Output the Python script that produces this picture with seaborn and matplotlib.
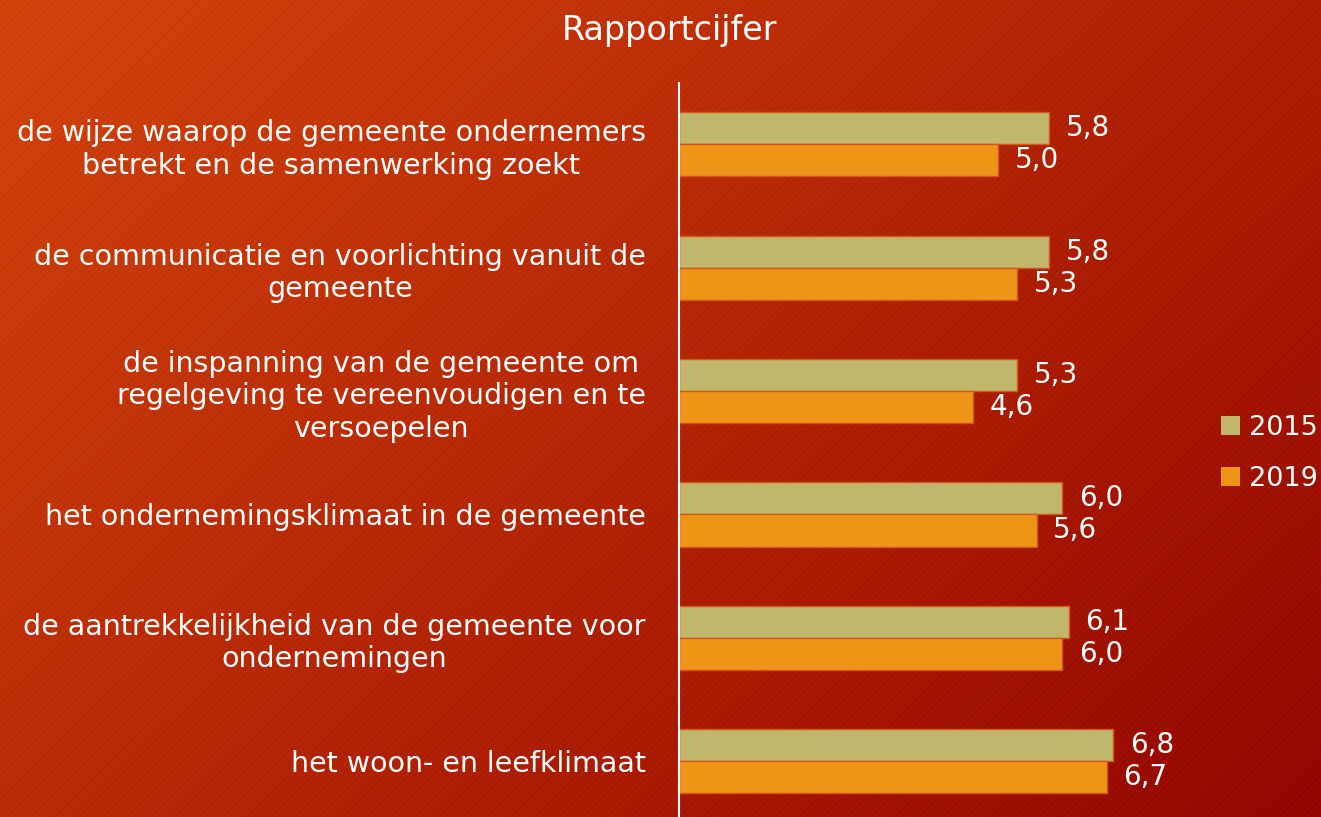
import numpy as np
import pandas as pd
import seaborn as sns
import matplotlib.pyplot as plt
from matplotlib.patches import Patch

# data
categories = [
    'de wijze waarop de gemeente ondernemers\nbetrekt en de samenwerking zoekt',
    'de communicatie en voorlichting vanuit de\ngemeente',
    'de inspanning van de gemeente om\nregelgeving te vereenvoudigen en te\nversoepelen',
    'het ondernemingsklimaat in de gemeente',
    'de aantrekkelijkheid van de gemeente voor\nondernemingen',
    'het woon- en leefklimaat',
]
scores_2015 = [5.8, 5.8, 5.3, 6.0, 6.1, 6.8]
scores_2019 = [5.0, 5.3, 4.6, 5.6, 6.0, 6.7]
years = ['2015', '2019']
colors = ['#C1B76C', '#F09418']

df = pd.DataFrame({
    'categorie': categories * 2,
    'cijfer': scores_2015 + scores_2019,
    'jaar': [years[0]] * len(categories) + [years[1]] * len(categories),
})

sns.set_style('white')
plt.rcParams['font.family'] = ['DejaVu Sans']

fig = plt.figure(figsize=(13.21, 8.17), dpi=100)

# background gradient with faint diagonal stripes
bg = fig.add_axes([0, 0, 1, 1], zorder=0)
W, H = 1321, 817
px, py = np.meshgrid(np.arange(W), np.arange(H))
t = np.clip(px / W * 0.6 + py / H * 0.4, 0, 1)
c0 = np.array([213, 70, 15]) / 255
c1 = np.array([150, 8, 0]) / 255
img = c0[None, None, :] * (1 - t[..., None]) + c1[None, None, :] * t[..., None]
stripes = ((px + py) % 6 < 3) * 0.018
img = np.clip(img - stripes[..., None], 0, 1)
bg.imshow(img, aspect='auto', extent=[0, 1, 0, 1], origin='upper',
          interpolation='nearest')
bg.axis('off')

ax = fig.add_axes([0.514, -0.0073, 0.394, 0.9063], zorder=1)
ax.patch.set_alpha(0)
sns.barplot(data=df, y='categorie', x='cijfer', hue='jaar', orient='h',
            palette=colors, saturation=1, width=0.52, edgecolor='#D0581A',
            linewidth=1, legend=False, ax=ax)

for cont in ax.containers:
    labels = [f'{b.get_width():.1f}'.replace('.', ',') for b in cont]
    ax.bar_label(cont, labels=labels, padding=12, color='white', fontsize=20)

ax.set_xlim(0, 8.15)
ax.set_xlabel('')
ax.set_ylabel('')
ax.set_xticks([])
for s in ['top', 'right', 'bottom']:
    ax.spines[s].set_visible(False)
ax.spines['left'].set_color('white')
ax.spines['left'].set_linewidth(1.5)
ax.tick_params(axis='y', length=0, pad=24, labelcolor='white', labelsize=20.5)
for lbl in ax.get_yticklabels():
    lbl.set_multialignment('center')

fig.text(0.507, 0.963, 'Rapportcijfer', color='white', fontsize=24,
         ha='center', va='center')

handles = [Patch(facecolor=c, edgecolor='none') for c in colors]
fig.legend(handles, years, loc='center left', bbox_to_anchor=(0.924, 0.445),
           frameon=False, fontsize=19.5, labelcolor='white',
           borderpad=0, borderaxespad=0,
           handlelength=0.7, handleheight=0.7, handletextpad=0.35,
           labelspacing=0.9)

fig.savefig('out.png', dpi=100)
